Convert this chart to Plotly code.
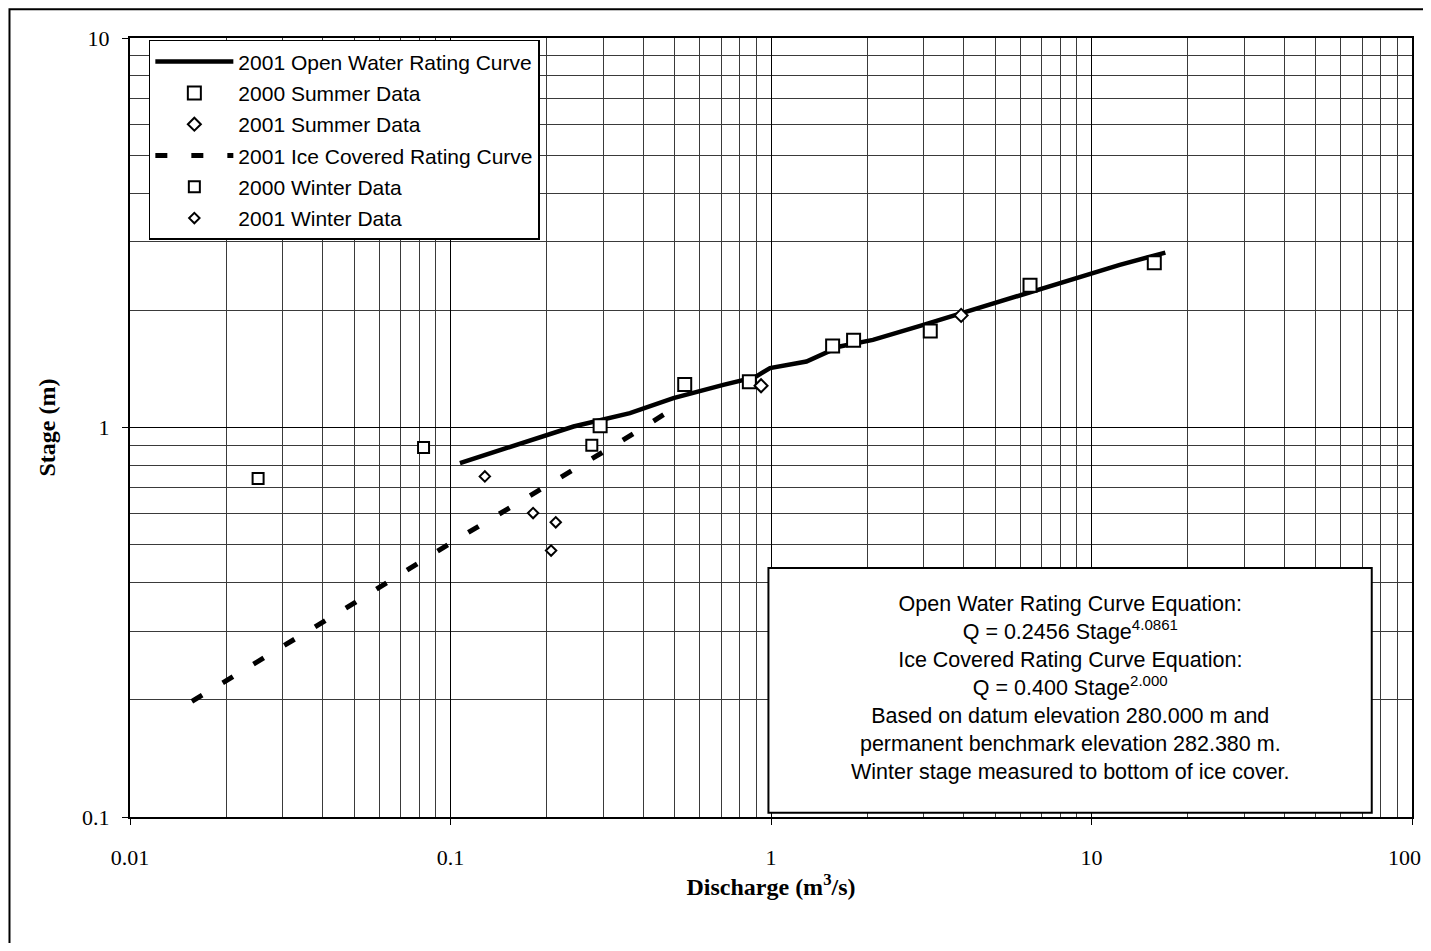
import math
import plotly.graph_objects as go

# ---- data ----
open_q = [0.107, 0.150, 0.190, 0.242, 0.363, 0.496, 0.710, 0.892, 0.993, 1.29, 1.64,
          2.08, 2.99, 3.79, 5.30, 7.59, 9.64, 12.25, 17.0]
open_stage = [0.810, 0.886, 0.940, 1.006, 1.089, 1.190, 1.287, 1.347, 1.421, 1.477, 1.614,
              1.679, 1.835, 1.947, 2.127, 2.324, 2.466, 2.616, 2.813]

ice_q = [0.0156, 0.025, 0.05, 0.1, 0.2, 0.3, 0.4, 0.527]
ice_stage = [0.198, 0.25, 0.354, 0.505, 0.707, 0.866, 1.0, 1.155]

summer2000_q = [0.293, 0.538, 0.856, 1.557, 1.81, 3.14, 6.43, 15.7]
summer2000_stage = [1.01, 1.29, 1.31, 1.62, 1.676, 1.769, 2.32, 2.65]

summer2001_q = [0.931, 3.92]
summer2001_stage = [1.28, 1.94]

winter2000_q = [0.0251, 0.0824, 0.276]
winter2000_stage = [0.740, 0.889, 0.901]

winter2001_q = [0.128, 0.181, 0.213, 0.206]
winter2001_stage = [0.749, 0.603, 0.571, 0.483]

x_tickvals = [0.01, 0.1, 1, 10, 100]
x_ticktext = ["0.01", "0.1", "1", "10", "100"]
y_tickvals = [0.1, 1, 10]
y_ticktext = ["0.1", "1", "10"]

series_names = ["2001 Open Water Rating Curve", "2000 Summer Data", "2001 Summer Data",
                "2001 Ice Covered Rating Curve", "2000 Winter Data", "2001 Winter Data"]

box_lines = [
    "Open Water Rating Curve Equation:",
    "Q = 0.2456 Stage<sup>4.0861</sup>",
    "Ice Covered Rating Curve Equation:",
    "Q = 0.400 Stage<sup>2.000</sup>",
    "Based on datum elevation 280.000 m and",
    "permanent benchmark elevation 282.380 m.",
    "Winter stage measured to bottom of ice cover.",
]

# ---- figure ----
fig = go.Figure()
sq_marker_big = dict(symbol="square", size=13, color="white", line=dict(color="black", width=2))
sq_marker_small = dict(symbol="square", size=11, color="white", line=dict(color="black", width=2))
dm_marker_big = dict(symbol="diamond", size=10, color="white", line=dict(color="black", width=2))
dm_marker_small = dict(symbol="diamond", size=8, color="white", line=dict(color="black", width=2))

fig.add_trace(go.Scatter(x=open_q, y=open_stage, mode="lines", name=series_names[0],
                         legendgroup="a", line=dict(color="black", width=4.5)))
fig.add_trace(go.Scatter(x=summer2000_q, y=summer2000_stage, mode="markers", name=series_names[1],
                         legendgroup="b", marker=sq_marker_big))
fig.add_trace(go.Scatter(x=summer2001_q, y=summer2001_stage, mode="markers", name=series_names[2],
                         legendgroup="c", marker=dm_marker_big))
fig.add_trace(go.Scatter(x=ice_q, y=ice_stage, mode="lines", name=series_names[3],
                         legendgroup="d", line=dict(color="black", width=5, dash="12px,24px")))
fig.add_trace(go.Scatter(x=winter2000_q, y=winter2000_stage, mode="markers", name=series_names[4],
                         legendgroup="e", marker=sq_marker_small))
fig.add_trace(go.Scatter(x=winter2001_q, y=winter2001_stage, mode="markers", name=series_names[5],
                         legendgroup="f", marker=dm_marker_small))

tick_font = dict(family="Liberation Serif", size=22, color="black")
axis_common = dict(
    type="log",
    automargin=False,
    showline=True, linecolor="black", linewidth=2, mirror=True,
    ticks="outside", ticklen=6, tickcolor="black", tickwidth=1,
    showgrid=True, gridcolor="black", gridwidth=1,
    minor=dict(dtick="D1", showgrid=True, gridcolor="#3a3a3a", gridwidth=1, ticks=""),
    tickfont=tick_font,
    zeroline=False,
)

# the last x label sits at the very edge of the window: draw it as an annotation,
# right-aligned so that it stays fully visible
x_ticktext_axis = x_ticktext[:-1] + [""]

fig.update_xaxes(**axis_common, range=[-2, 2], tickvals=x_tickvals, ticktext=x_ticktext_axis,
                 ticklabelstandoff=14,
                 title=dict(text="<b>Discharge (m<sup>3</sup>/s)</b>",
                            font=dict(family="Liberation Serif", size=24, color="black"),
                            standoff=0))
fig.update_yaxes(**axis_common, range=[-1, 1], tickvals=y_tickvals, ticktext=y_ticktext,
                 ticklabelstandoff=8,
                 title=dict(text="<b>Stage (m)</b>",
                            font=dict(family="Liberation Serif", size=24, color="black"),
                            standoff=20))

fig.add_annotation(xref="x", yref="paper", x=math.log10(x_tickvals[-1]), y=-0.052,
                   xanchor="right", yanchor="middle", xshift=11, showarrow=False,
                   text=x_ticktext[-1], font=tick_font)

# page has an 8px body margin, so the figure is sized/positioned to fit the window
fig.update_layout(
    width=1415, height=935,
    margin=dict(l=121.5, r=11, t=30, b=125.5),
    paper_bgcolor="white", plot_bgcolor="white",
    showlegend=True,
    legend=dict(x=0.0147, y=0.9975, xanchor="left", yanchor="top",
                bgcolor="white", bordercolor="black", borderwidth=1.5,
                font=dict(family="Liberation Sans", size=21, color="black"),
                tracegroupgap=1, itemwidth=78),
)

# outer chart border (extends past the right/bottom edges of the image)
fig.add_shape(type="rect", xref="paper", yref="paper",
              x0=-0.094, x1=1.05, y0=-0.25, y1=1.037,
              line=dict(color="black", width=2), fillcolor="rgba(0,0,0,0)", layer="above")

# equation box
fig.add_shape(type="rect", xref="paper", yref="paper",
              x0=0.498, x1=0.9686, y0=0.0055, y1=0.3197,
              line=dict(color="black", width=2), fillcolor="white", layer="above")
fig.add_annotation(xref="paper", yref="paper", x=0.7333, y=0.1661,
                   xanchor="center", yanchor="middle", showarrow=False,
                   text="<br>".join(box_lines), align="center",
                   font=dict(family="Liberation Sans", size=21.5, color="black"))

fig.write_html("out.html")
